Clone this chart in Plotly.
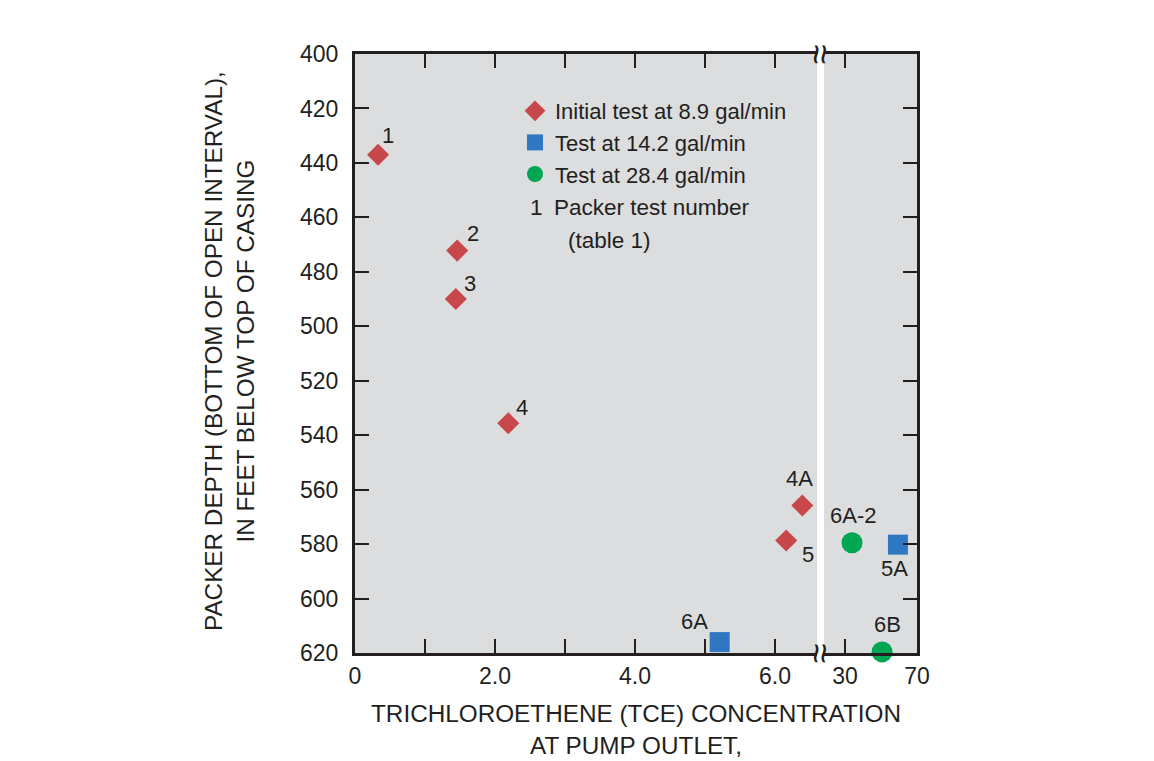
import plotly.graph_objects as go

# ---------------- data ----------------
# Initial test at 8.9 gal/min (left panel, TCE 0-6.6)
init_labels = ["1", "2", "3", "4", "4A", "5"]
init_tce = [0.33, 1.46, 1.44, 2.19, 6.39, 6.16]
init_depth = [437, 472.2, 490, 535.6, 565.8, 578.7]

# Test at 14.2 gal/min
sq_left_labels = ["6A"]
sq_left_tce = [5.21]
sq_left_depth = [616]
sq_right_labels = ["5A"]
sq_right_tce = [59.4]
sq_right_depth = [580.2]

# Test at 28.4 gal/min (right panel, TCE 30-70)
circ_labels = ["6A-2", "6B"]
circ_tce = [33.9, 50.6]
circ_depth = [579.5, 619.6]

left_ticks = [0, 1, 2, 3, 4, 5, 6]
left_ticktext = ["0", "", "2.0", "", "4.0", "", "6.0"]
right_ticks = [30, 70]
right_ticktext = ["30", "70"]
depth_ticks = list(range(400, 621, 20))

# label offsets (style, in pixels)
init_off = [(10, 19), (16, 17), (14, 16), (14, 16), (-3, 27), (22, -14)]
sq_left_off = [(-25, 21)]
sq_right_off = [(-3, -24)]
circ_off = [(1, 27), (5, 27)]

RED = "#c8474b"
BLUE = "#2f78c1"
GREEN = "#00a651"
INK = "#231f20"
BG = "#dcdddf"
FONT = "Liberation Sans, Arial, Helvetica, sans-serif"

OFF = 8  # page body margin
W, H = 1154 - OFF, 761 - OFF
L, T = 355 - OFF, 54 - OFF
R = W - (917 - OFF)
B = H - (653 - OFF)
pw, ph = W - L - R, H - T - B


def px(s):
    return (s - OFF - L) / pw


def py(s):
    return (H - B - (s - OFF)) / ph


fig = go.Figure()
fig.add_trace(go.Scatter(
    x=init_tce, y=init_depth, mode="markers", name="Initial test at 8.9 gal/min",
    marker=dict(symbol="diamond", size=17, color=RED), xaxis="x", yaxis="y",
    legendgroup="a", cliponaxis=False))
fig.add_trace(go.Scatter(
    x=sq_left_tce, y=sq_left_depth, mode="markers", name="Test at 14.2 gal/min",
    marker=dict(symbol="square", size=20, color=BLUE), xaxis="x", yaxis="y",
    legendgroup="b", cliponaxis=False))
fig.add_trace(go.Scatter(
    x=sq_right_tce, y=sq_right_depth, mode="markers", name="Test at 14.2 gal/min",
    marker=dict(symbol="square", size=20, color=BLUE), xaxis="x2", yaxis="y2",
    legendgroup="b", showlegend=False, cliponaxis=False))
fig.add_trace(go.Scatter(
    x=circ_tce, y=circ_depth, mode="markers", name="Test at 28.4 gal/min",
    marker=dict(symbol="circle", size=21, color=GREEN), xaxis="x2", yaxis="y2",
    legendgroup="c", cliponaxis=False))

annotations = []


def add_labels(labels, xs, ys, offs, xref, yref):
    for lab, xv, yv, (dx, dy) in zip(labels, xs, ys, offs):
        annotations.append(dict(
            x=xv, y=yv, xref=xref, yref=yref, text=lab, showarrow=False,
            xanchor="center", yanchor="middle",
            xshift=dx, yshift=dy, font=dict(size=22, color=INK, family=FONT)))


add_labels(init_labels, init_tce, init_depth, init_off, "x", "y")
add_labels(sq_left_labels, sq_left_tce, sq_left_depth, sq_left_off, "x", "y")
add_labels(sq_right_labels, sq_right_tce, sq_right_depth, sq_right_off, "x2", "y2")
add_labels(circ_labels, circ_tce, circ_depth, circ_off, "x2", "y2")


def paper_text(xs, ys, text, size, xanchor="center", yanchor="middle", angle=0):
    annotations.append(dict(x=px(xs), y=py(ys), xref="paper", yref="paper", text=text,
                            showarrow=False, xanchor=xanchor, yanchor=yanchor,
                            textangle=angle, font=dict(size=size, color=INK, family=FONT)))


# legend extra row
paper_text(536, 208, "1", 22.5)
paper_text(552, 208, "Packer test number", 22.5, xanchor="left")
paper_text(566, 241, "(table 1)", 22.5, xanchor="left")

# axis titles
paper_text(636, 729, "TRICHLOROETHENE (TCE) CONCENTRATION<br>AT PUMP OUTLET,", 24.3)
paper_text(229, 351, "PACKER DEPTH (BOTTOM OF OPEN INTERVAL),<br>IN FEET BELOW TOP OF CASING",
           24.3, angle=-90)

# axis break marks
for yy in (54, 653):
    paper_text(820.5, yy, "≈", 36, angle=90)

axis_common = dict(showline=True, linecolor=INK, linewidth=3, ticks="inside",
                   ticklen=14, tickwidth=2, tickcolor=INK, showgrid=False, zeroline=False,
                   tickfont=dict(size=23, color=INK, family=FONT))

fig.update_layout(
    width=W, height=H,
    margin=dict(l=L, r=R, t=T, b=B, autoexpand=False),
    paper_bgcolor="white", plot_bgcolor=BG,
    showlegend=True,
    legend=dict(x=px(515), y=py(90), xanchor="left", yanchor="top",
                bgcolor="rgba(0,0,0,0)", borderwidth=0, traceorder="grouped",
                tracegroupgap=0, font=dict(size=22, color=INK, family=FONT)),
    xaxis=dict(domain=[0, px(817)], range=[0, 6.6], tickvals=left_ticks,
               ticktext=left_ticktext, mirror="ticks", anchor="y", **axis_common),
    xaxis2=dict(domain=[px(824), 1], range=[30 - 21 / 1.8, 70], tickvals=right_ticks,
                ticktext=right_ticktext, mirror="ticks", anchor="y2", **axis_common),
    yaxis=dict(range=[620, 400], tickvals=depth_ticks, anchor="x", side="left",
               ticklabelstandoff=9, **axis_common),
    yaxis2=dict(range=[620, 400], tickvals=depth_ticks, anchor="x2", side="right",
                matches="y", showticklabels=False, **axis_common),
    annotations=annotations,
)

fig.write_html("out.html")
